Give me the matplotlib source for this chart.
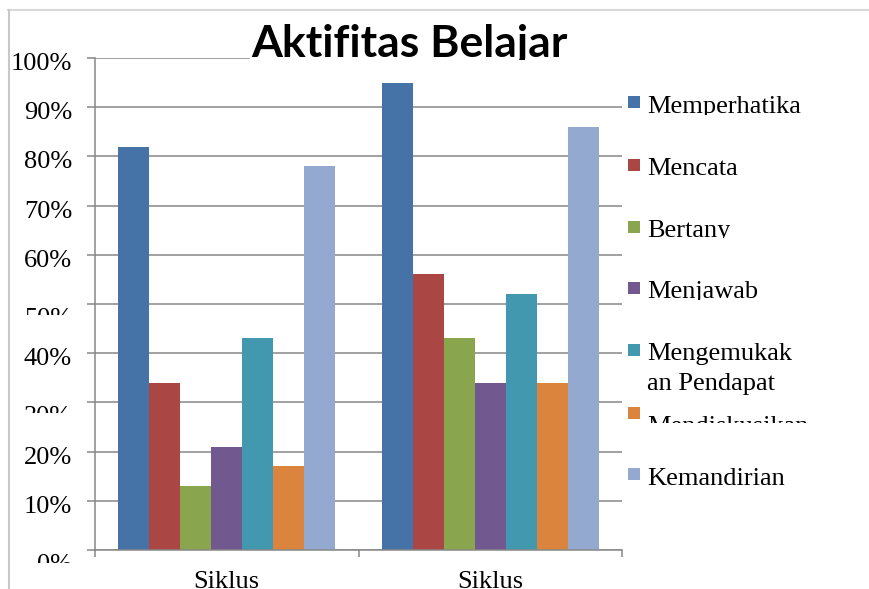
import matplotlib
matplotlib.use("Agg")
import numpy as np
import matplotlib.pyplot as plt
from matplotlib.patches import Rectangle
from matplotlib.lines import Line2D
from matplotlib.transforms import Bbox, TransformedBbox, blended_transform_factory, offset_copy

W, H = 869, 589

categories = ["Siklus", "Siklus"]
series_names = ["Memperhatikan", "Mencatat", "Bertanya", "Menjawab",
                "Mengemukakan Pendapat", "Mendiskusikan", "Kemandirian"]
# legend text as it shows up (cut by the text boxes)
legend_lines = [["Memperhatika"], ["Mencata"], ["Bertany"], ["Menjawab"],
                ["Mengemukak", "an Pendapat"], ["Mendiskusikan"], ["Kemandirian"]]
siklus_1 = [82, 34, 13, 21, 43, 17, 78]
siklus_2 = [95, 56, 43, 34, 52, 34, 86]
y_ticks = [0, 10, 20, 30, 40, 50, 60, 70, 80, 90, 100]
y_tick_labels = ["0%", "10%", "20%", "30%", "40%", "50%", "60%", "70%", "80%", "90%", "100%"]

colors = ["#4572A7", "#AA4643", "#89A54E", "#71588F", "#4198AF", "#DB843D", "#93A9CF"]
GRID = "#878787"
SERIF = "Liberation Serif"
FS = 19


def fx(x):
    return x / W


def fy(y):
    return 1 - y / H


def clip_text(fig, t, x0, y0, x1, y1):
    # clip rectangle given in image pixels (top-left origin)
    bb = Bbox.from_extents(fx(x0), fy(y1), fx(x1), fy(y0))
    t.set_clip_box(TransformedBbox(bb, fig.transFigure))
    t.set_clip_on(True)


fig = plt.figure(figsize=(W / 100, H / 100), dpi=100)
ax = fig.add_axes([fx(95), 39 / H, 527 / W, 492 / H])

data = np.array([siklus_1, siklus_2])
x = np.arange(len(categories))
w = 31 / 263.5
for j, name in enumerate(series_names):
    ax.bar(x + (j - 3) * w, data[:, j], width=w, color=colors[j], label=name, zorder=2)

ax.set_xlim(-0.5, 1.5)
ax.set_ylim(0, 100)
ax.set_yticks(y_ticks)
ax.set_yticklabels([])
ax.yaxis.grid(True, color=GRID, lw=1.1)
ax.set_axisbelow(True)
ax.tick_params(axis="y", length=6, width=1.1, color=GRID)

ax.set_xticks(x, labels=categories, fontfamily=SERIF, fontsize=FS)
ax.set_xticks([-0.5, 0.5, 1.5], minor=True)
ax.tick_params(axis="x", which="major", length=0, pad=15)
ax.tick_params(axis="x", which="minor", length=5, width=1.1, color=GRID)

for s in ["top", "right"]:
    ax.spines[s].set_visible(False)
for s in ["left", "bottom"]:
    ax.spines[s].set_color(GRID)
    ax.spines[s].set_linewidth(1.1)

# y labels, a few of them cut off like in the original
trans = blended_transform_factory(ax.transAxes, ax.transData)
clipped = {0: 13, 30: 10.5, 50: 11}
for v, lab in zip(y_ticks, y_tick_labels):
    gy = 550 - v * 4.92
    if v in clipped:
        t = ax.text(0, v, lab, transform=offset_copy(trans, fig=fig, x=-23, y=-4, units="dots"),
                    ha="right", va="top", fontfamily=SERIF, fontsize=FS, clip_on=True)
        clip_text(fig, t, 10, gy, 90, gy + clipped[v])
    else:
        ax.text(0, v, lab, transform=offset_copy(trans, fig=fig, x=-23, y=5, units="dots"),
                ha="right", va="top", fontfamily=SERIF, fontsize=FS)

# legend drawn by hand
sq_top = [96, 159, 221, 282, 344, 407, 468]
baselines = [113, 175, 237, 298, 360, 433, 485]
clip_bottom = [114.5, None, 238, 300, None, 423, None]
for j, lines in enumerate(legend_lines):
    fig.add_artist(Rectangle((fx(628), fy(sq_top[j] + 12)), 12 / W, 12 / H,
                             transform=fig.transFigure, fc=colors[j], ec="none"))
    for k, line in enumerate(lines):
        t = fig.text(fx(647), fy(baselines[j] + 30 * k), line, ha="left", va="baseline",
                     fontfamily=SERIF, fontsize=FS)
        if clip_bottom[j] is not None:
            clip_text(fig, t, 640, 0, W, clip_bottom[j])

# title box hides the top gridline
fig.add_artist(Rectangle((fx(250), fy(63)), 450 / W, 48 / H, transform=fig.transFigure,
                         fc="white", ec="none", zorder=2))
t = fig.text(fx(251), fy(57), "Aktifitas Belajar", ha="left", va="baseline",
             fontfamily="Lato", fontweight="bold", fontsize=32, zorder=3)
clip_text(fig, t, 240, 0, 700, 60)

# outer frame lines
fig.add_artist(Line2D([fx(8), 1], [fy(9.5), fy(9.5)], color="#d9d9d9", lw=1.5))
fig.add_artist(Line2D([fx(8.5), fx(8.5)], [0, fy(9.5)], color="#c8c8c8", lw=1.5))

fig.savefig("out.png", dpi=100)
